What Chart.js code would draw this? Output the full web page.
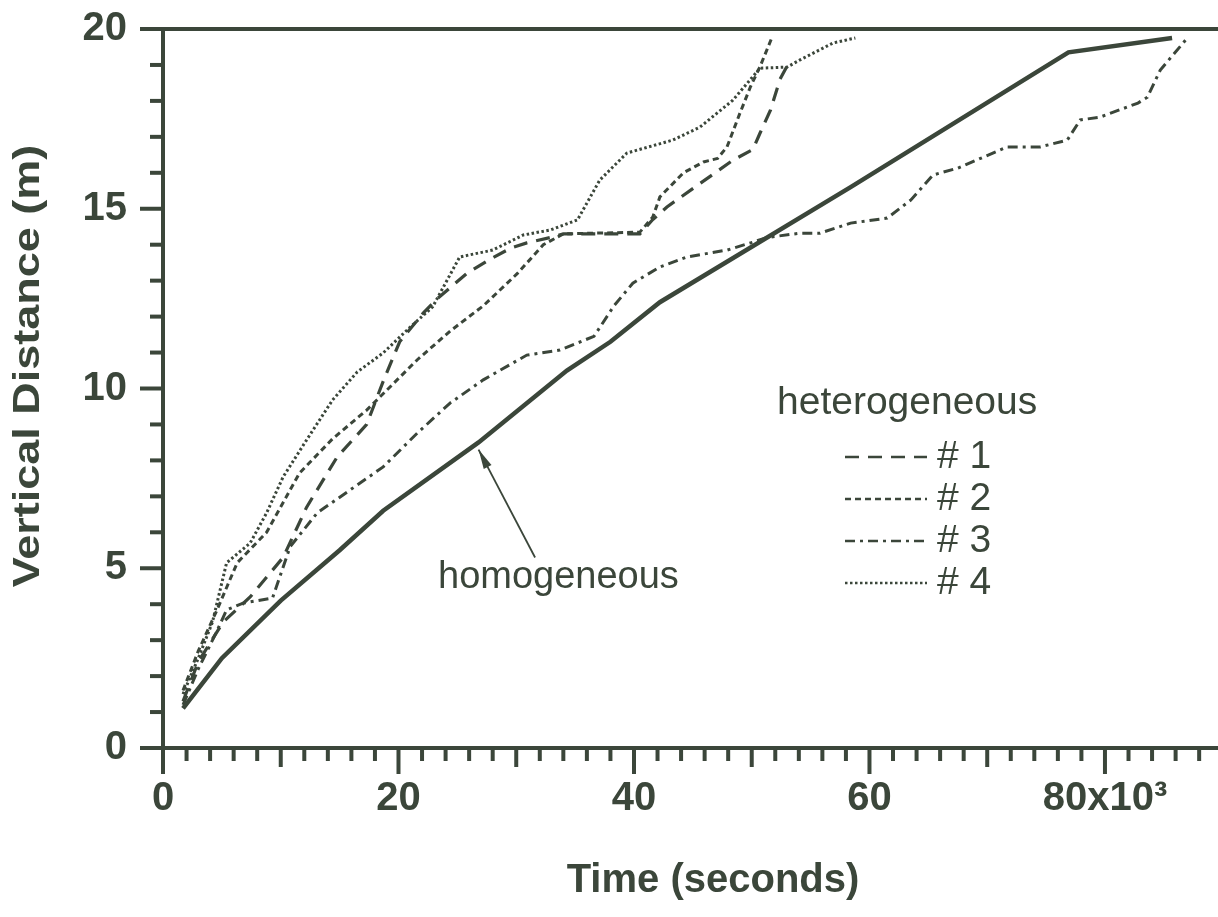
<!DOCTYPE html>
<html>
<head>
<meta charset="utf-8">
<script src="https://cdn.jsdelivr.net/npm/chart.js@4.4.0/dist/chart.umd.min.js"></script>
<style>
  html, body { margin: 0; padding: 0; background: #fff; }
</style>
</head>
<body>
<canvas id="fronts" width="1218" height="917"></canvas>
<script>
// time in 10^3 s, vertical distance in m
const timeHomog = [1.7, 5, 10, 15, 18.7, 26.8, 34.3, 38, 42.2, 58.4, 76.9, 85.7];
const distHomog = [1.1, 2.5, 4.1, 5.5, 6.6, 8.5, 10.5, 11.3, 12.4, 15.6, 19.35, 19.75];

const time1 = [1.7, 3, 5.1, 7.4, 10.2, 12.2, 14.8, 17.3, 18.7, 20.1, 22.1, 23.3, 25.8, 27.8, 29.5, 30.9, 32.9, 34, 40.5, 41.6, 42.8, 45.6, 48.4, 50.1, 50.7, 51.6, 52.4, 53.3];
const dist1 = [1.3, 2.4, 3.5, 4.2, 5.3, 6.7, 8.1, 9.0, 10.2, 11.3, 12.1, 12.5, 13.2, 13.6, 13.9, 14.05, 14.2, 14.3, 14.3, 14.7, 15.05, 15.7, 16.35, 16.65, 17.1, 17.75, 18.6, 19.15];

const time2 = [1.7, 3, 4.6, 6.3, 8.8, 11.6, 14.4, 17.3, 19.3, 21.6, 24.4, 27.2, 30.1, 32.3, 34, 40.5, 41.6, 42.2, 44.2, 45.9, 47.1, 47.9, 49, 49.9, 50.7, 51.7];
const dist2 = [1.6, 2.7, 3.85, 5.15, 6.0, 7.65, 8.6, 9.4, 10.05, 10.8, 11.6, 12.3, 13.2, 14.0, 14.3, 14.35, 14.77, 15.33, 16.0, 16.3, 16.4, 16.72, 17.66, 18.4, 18.95, 19.75];

const time3 = [1.7, 3, 4.5, 5.4, 6.8, 9.3, 10.8, 13.1, 15.9, 18.7, 21.6, 24.4, 27.2, 30.9, 33.7, 36.6, 38.3, 39.9, 42.2, 44.5, 47.9, 49.9, 51.3, 54.1, 55.8, 58.4, 61.5, 63.5, 65.4, 67.5, 71.7, 74.5, 76.8, 77.9, 79.6, 82.8, 83.6, 84.7, 87];
const dist3 = [1.2, 2.2, 3.2, 3.84, 4.03, 4.17, 5.6, 6.54, 7.18, 7.82, 8.76, 9.6, 10.24, 10.93, 11.07, 11.45, 12.3, 12.93, 13.38, 13.66, 13.85, 14.05, 14.2, 14.32, 14.32, 14.6, 14.74, 15.24, 15.94, 16.13, 16.72, 16.72, 16.91, 17.47, 17.55, 17.94, 18.1, 18.86, 19.75];

const time4 = [1.7, 3, 4.2, 5.4, 7.4, 8.8, 10.2, 12.2, 14.4, 16.5, 18.7, 21, 22.9, 25.2, 28, 30.6, 32.9, 35.2, 37.1, 39.4, 43.3, 45.6, 48.4, 50.7, 53, 54.1, 56.9, 58.8];
const dist4 = [1.5, 2.5, 3.5, 5.15, 5.7, 6.54, 7.54, 8.57, 9.68, 10.46, 10.99, 11.71, 12.27, 13.66, 13.85, 14.27, 14.41, 14.69, 15.8, 16.55, 16.91, 17.27, 18.02, 18.91, 18.94, 19.14, 19.61, 19.75];

const hetLabels = ['# 1', '# 2', '# 3', '# 4'];
const xTickLabels = {0: '0', 20: '20', 40: '40', 60: '60', 80: '80x10\u00B3'};

const INK = '#3b463a';
const FONT = '"Liberation Sans", Arial, Helvetica, sans-serif';

function pts(xs, ys) {
    return xs.map((v, i) => ({x: v, y: ys[i]}));
}

function series(label, xs, ys, dash, width) {
    return {
        label: label,
        data: pts(xs, ys),
        borderColor: INK,
        borderWidth: width,
        borderDash: dash,
        pointRadius: 0,
        fill: false,
        tension: 0
    };
}

// ticks, frame, titles, legend and arrow note
const decor = {
    id: 'decor',
    afterDraw(chart) {
        const {ctx, chartArea, scales: {x, y}} = chart;
        const line = (x1, y1, x2, y2) => {
            ctx.beginPath(); ctx.moveTo(x1, y1); ctx.lineTo(x2, y2); ctx.stroke();
        };
        ctx.save();
        ctx.strokeStyle = INK;
        ctx.lineWidth = 4;
        ctx.setLineDash([]);
        for (let v = 0; v <= 88; v += 2) {
            const px = x.getPixelForValue(v);
            const len = v % 20 === 0 ? 26 : (v % 10 === 0 ? 19 : 13);
            line(px, chartArea.bottom, px, chartArea.bottom + len);
        }
        for (let v = 0; v <= 20; v++) {
            const py = y.getPixelForValue(v);
            const len = v % 5 === 0 ? 23 : 13;
            line(chartArea.left - len, py, chartArea.left, py);
        }
        line(chartArea.left - 23, chartArea.top, chartArea.right, chartArea.top);

        // axis titles
        ctx.fillStyle = INK;
        ctx.textAlign = 'center';
        ctx.textBaseline = 'alphabetic';
        ctx.font = 'bold 40px ' + FONT;
        ctx.fillText('Time (seconds)', 713, 892);
        ctx.save();
        ctx.translate(39, 366);
        ctx.rotate(-Math.PI / 2);
        ctx.scale(1.25, 1);
        ctx.font = 'bold 36px ' + FONT;
        ctx.fillText('Vertical Distance (m)', 0, 0);
        ctx.restore();

        // legend
        ctx.textBaseline = 'middle';
        ctx.textAlign = 'left';
        ctx.font = '39px ' + FONT;
        ctx.fillText('heterogeneous', 777, 403);
        const rowsY = [457, 499, 541, 583];
        const hetSets = chart.data.datasets.slice(1);
        hetSets.forEach((ds, i) => {
            ctx.lineWidth = 2.4;
            ctx.setLineDash(ds.borderDash);
            line(845, rowsY[i], 927, rowsY[i]);
            ctx.setLineDash([]);
            ctx.fillText(hetLabels[i], 937, rowsY[i]);
        });

        // arrow to the homogeneous curve
        const tipX = x.getPixelForValue(26.8), tipY = y.getPixelForValue(8.3);
        const tailX = x.getPixelForValue(31.6), tailY = y.getPixelForValue(5.3);
        ctx.lineWidth = 1.8;
        line(tailX, tailY, tipX, tipY);
        const ang = Math.atan2(tipY - tailY, tipX - tailX);
        ctx.beginPath();
        ctx.moveTo(tipX, tipY);
        ctx.lineTo(tipX - 20 * Math.cos(ang - 0.22), tipY - 20 * Math.sin(ang - 0.22));
        ctx.lineTo(tipX - 20 * Math.cos(ang + 0.22), tipY - 20 * Math.sin(ang + 0.22));
        ctx.closePath();
        ctx.fill();
        ctx.font = '38px ' + FONT;
        ctx.fillText('homogeneous', 438, 578);
        ctx.restore();
    }
};

const ctx = document.getElementById('fronts').getContext('2d');
new Chart(ctx, {
    type: 'line',
    data: {
        datasets: [
            series('homogeneous', timeHomog, distHomog, [], 4.5),
            series('# 1', time1, dist1, [14, 9], 3.2),
            series('# 2', time2, dist2, [6, 4], 3),
            series('# 3', time3, dist3, [10, 5, 3, 5], 3),
            series('# 4', time4, dist4, [2.5, 2.5], 3)
        ]
    },
    options: {
        responsive: false,
        animation: false,
        layout: {autoPadding: false, padding: {top: 29, right: 0, left: 0, bottom: 0}},
        plugins: {legend: {display: false}, tooltip: {enabled: false}},
        scales: {
            x: {
                type: 'linear',
                min: 0,
                max: 89.6,
                grid: {display: false, drawTicks: false},
                border: {display: true, color: INK, width: 4},
                ticks: {
                    stepSize: 20,
                    includeBounds: false,
                    autoSkip: false,
                    maxRotation: 0,
                    color: INK,
                    padding: 27,
                    font: {family: FONT, size: 40, weight: 'bold'},
                    callback: v => xTickLabels[v] || ''
                },
                afterFit: s => {
                    s.height = 169;
                    s.paddingLeft = 0; s.paddingRight = 0; s.paddingTop = 0; s.paddingBottom = 0;
                }
            },
            y: {
                min: 0,
                max: 20,
                grid: {display: false, drawTicks: false},
                border: {display: true, color: INK, width: 4},
                ticks: {
                    stepSize: 5,
                    color: INK,
                    padding: 36,
                    font: {family: FONT, size: 40, weight: 'bold'}
                },
                afterFit: s => {
                    s.width = 163;
                    s.paddingLeft = 0; s.paddingRight = 0; s.paddingTop = 0; s.paddingBottom = 0;
                }
            }
        }
    },
    plugins: [decor]
});
</script>
</body>
</html>
